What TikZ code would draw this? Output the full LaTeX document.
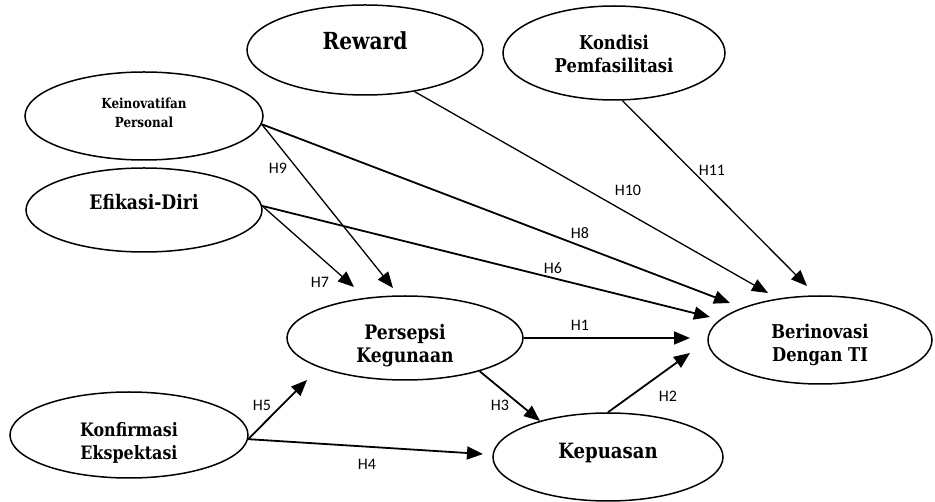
\documentclass[tikz,border=0pt]{standalone}
\usepackage{fontspec}
\newfontfamily\labfont{Carlito}
\newfontfamily\vfont{DejaVu Serif}[FakeStretch=0.86]
\usetikzlibrary{shapes.geometric,arrows.meta}
\tikzset{
  var/.style={ellipse, draw, line width=1.5pt, inner sep=0pt, align=center},
  conn/.style={line width=1.8pt, -{Triangle[length=16pt,width=13pt]}},
  thinconn/.style={line width=1.3pt, -{Triangle[length=16pt,width=13pt]}},
  hl/.style={font=\labfont\fontsize{16}{18}\selectfont, inner sep=0pt}
}
\newcommand\vf[2]{\vfont\bfseries\fontsize{#1}{#2}\selectfont}
\newcommand\twol[3]{\raisebox{#1}[0pt][0pt]{\begin{tabular}{@{}c@{}}#2\\#3\end{tabular}}}
\newcommand\onel[2]{\raisebox{#1}[0pt][0pt]{#2}}
\begin{document}
\begin{tikzpicture}[x=1pt,y=-1pt]
\useasboundingbox (0,0) rectangle (935,502);
% variables
\node[var, minimum width=236pt, minimum height=90pt, font=\vf{23.5}{24}] (rew) at (365,50) {\onel{0pt}{Reward}};
\node[var, minimum width=222pt, minimum height=94pt, font=\vf{19}{23}] (kond) at (614,53) {\twol{-7.75pt}{Kondisi}{Pemfasilitasi}};
\node[var, minimum width=238pt, minimum height=88pt, font=\vf{13.9}{19}] (kein) at (144,116) {\twol{-2pt}{Keinovatifan}{Personal}};
\node[var, minimum width=236pt, minimum height=84pt, font=\vf{20}{24}] (efi) at (144,210) {\onel{0.5pt}{Efikasi-Diri}};
\node[var, minimum width=236pt, minimum height=84pt, font=\vf{20}{23}] (pers) at (405,338) {\twol{-14pt}{Persepsi}{Kegunaan}};
\node[var, minimum width=238pt, minimum height=86pt, font=\vf{18.5}{23}] (konf) at (129,435) {\twol{-13pt}{Konfirmasi}{Ekspektasi}};
\node[var, minimum width=230pt, minimum height=88pt, font=\vf{21}{24}] (kep) at (608,457) {\onel{-1.5pt}{Kepuasan}};
\node[var, minimum width=224pt, minimum height=88pt, font=\vf{19}{23}] (ber) at (820,340) {\twol{-9.25pt}{Berinovasi}{Dengan TI}};
% arrow tips
\coordinate (t1) at (690,338);
\coordinate (t2) at (690,353);
\coordinate (t3) at (540,421);
\coordinate (t4) at (483,454);
\coordinate (t5) at (307,380);
\coordinate (t6) at (710,317);
\coordinate (t7) at (354,287);
\coordinate (t8) at (730,303);
\coordinate (t9) at (393,288);
\coordinate (t10) at (768,293);
\coordinate (t11) at (807,286);
% connectors
\draw[conn] (pers.east) -- (t1);
\draw[conn] (kep.north) -- (t2);
\draw[conn] (pers.-24) -- (t3);
\draw[conn] (konf.-2) -- (t4);
\draw[conn] (konf.-2) -- (t5);
\draw[conn] (efi.2) -- (t6);
\draw[thinconn] (efi.2) -- (t7);
\draw[conn] (kein.-4) -- (t8);
\draw[thinconn] (kein.-4) -- (t9);
\draw[thinconn] (rew.-40) -- (t10);
\draw[thinconn] (kond.-80) -- (t11);
% labels
\node[hl] (h1) at (580,325) {H1};
\node[hl] (h2) at (668,396) {H2};
\node[hl] (h3) at (500,405) {H3};
\node[hl] (h4) at (367,464) {H4};
\node[hl] (h5) at (262,405) {H5};
\node[hl] (h6) at (553,268) {H6};
\node[hl] (h7) at (320,282) {H7};
\node[hl] (h8) at (580,233) {H8};
\node[hl] (h9) at (278,168) {H9};
\node[hl] (h10) at (628,190) {H10};
\node[hl] (h11) at (712,170) {H11};
\end{tikzpicture}
\end{document}
